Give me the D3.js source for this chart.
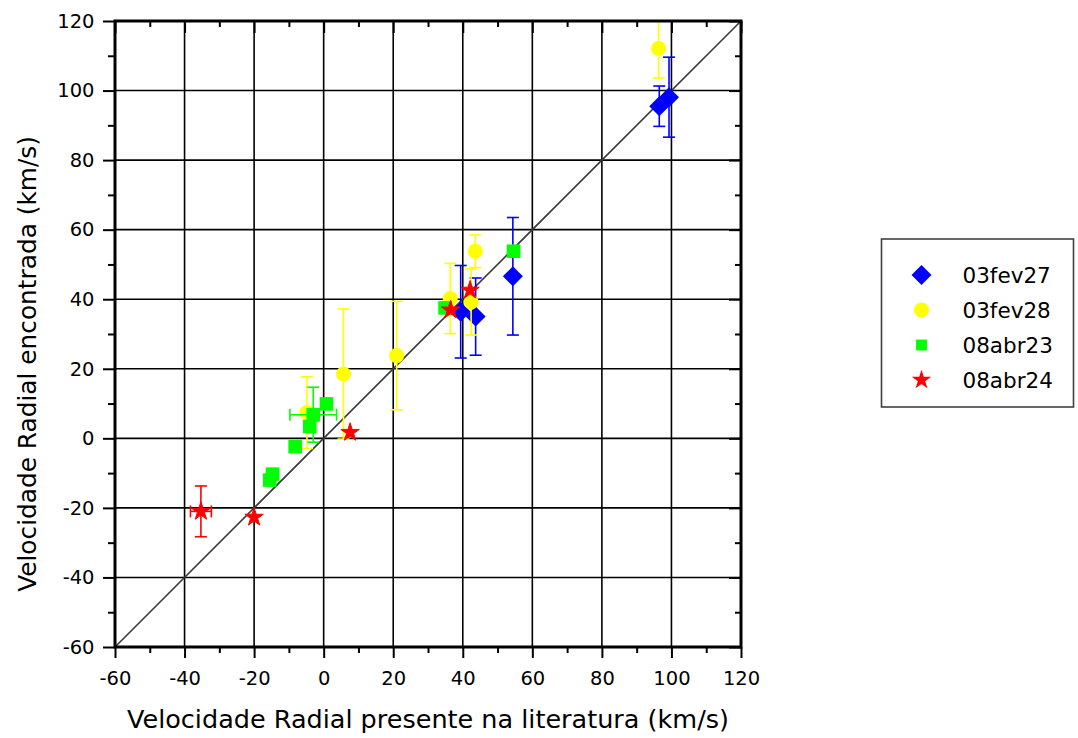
<!DOCTYPE html>
<html>
<head>
<meta charset="utf-8">
<script src="https://cdn.jsdelivr.net/npm/d3@7"></script>
<style>
  html, body { margin: 0; padding: 0; background: #fff; }
  svg { display: block; }
  text { font-family: "DejaVu Sans", sans-serif; fill: #000; }
</style>
</head>
<body>
<svg id="chart" width="1078" height="738"></svg>
<script>
// ---------- data ----------
const seriesNames = ["03fev27", "03fev28", "08abr23", "08abr24"];
const seriesColors = ["#0000ff", "#ffff00", "#00ff00", "#ff0000"];

const fev27X    = [39.4, 43.7, 54.4, 96.5, 99.3];
const fev27Y    = [36.4, 35.0, 46.6, 95.5, 98.1];
const fev27YErr = [13.3, 11.1, 16.9, 5.8, 11.5];
const fev27XErr = [0, 0, 0, 0, 0];

const fev28X    = [96.3, 43.6, 42.4, 36.4, 21.0, 5.7, -4.8];
const fev28Y    = [112.1, 53.8, 39.2, 40.2, 23.8, 18.5, 7.4];
const fev28YErr = [8.5, 4.7, 9.5, 10.1, 15.6, 18.7, 10.3];
const fev28XErr = [0, 0, 0, 0, 0, 0, 0];

const abr23X    = [54.6, 34.9, 0.8, -3.0, -4.0, -8.2, -14.7, -15.5];
const abr23Y    = [53.8, 37.5, 9.9, 6.8, 3.4, -2.4, -10.3, -12.0];
const abr23YErr = [0, 0, 0, 7.9, 0, 0, 0, 0];
const abr23XErr = [0, 0, 0, 6.7, 0, 0, 0, 0];

const abr24X    = [42.1, 36.5, 7.6, -20.0, -35.3];
const abr24Y    = [42.6, 36.9, 1.7, -22.7, -21.0];
const abr24YErr = [0, 0, 0, 0, 7.3];
const abr24XErr = [0, 0, 0, 0, 3.0];

const majorTicks = [-60, -40, -20, 0, 20, 40, 60, 80, 100, 120];
const minorTicks = [-50, -30, -10, 10, 30, 50, 70, 90, 110];

const xTitle = "Velocidade Radial presente na literatura (km/s)";
const yTitle = "Velocidade Radial encontrada (km/s)";

// ---------- layout ----------
const svg = d3.select("#chart");
const L = 115, R = 741, T = 21, B = 647;

const x = d3.scaleLinear().domain([-60, 120]).range([L, R]);
const y = d3.scaleLinear().domain([-60, 120]).range([B, T]);

svg.append("defs").append("clipPath").attr("id", "plotclip")
  .append("rect").attr("x", L).attr("y", T).attr("width", R - L).attr("height", B - T);

// grid
const grid = svg.append("g");
grid.selectAll(".gx").data(majorTicks.slice(1, -1)).join("line")
  .attr("x1", d => x(d)).attr("x2", d => x(d)).attr("y1", T).attr("y2", B)
  .attr("stroke", "#000").attr("stroke-width", 1.6);
grid.selectAll(".gy").data(majorTicks.slice(1, -1)).join("line")
  .attr("y1", d => y(d)).attr("y2", d => y(d)).attr("x1", L).attr("x2", R)
  .attr("stroke", "#000").attr("stroke-width", 1.6);

// diagonal y = x
svg.append("line")
  .attr("x1", x(-60)).attr("y1", y(-60)).attr("x2", x(120)).attr("y2", y(120))
  .attr("stroke", "#3a3a3a").attr("stroke-width", 1.6);

// symbols
function symbolPath(i, scale) {
  const s = scale || 1;
  if (i === 0) return d3.symbol().type(d3.symbolSquare).size(200 * s * s)();
  if (i === 1) return d3.symbol().type(d3.symbolCircle).size(180 * s * s)();
  if (i === 2) return d3.symbol().type(d3.symbolSquare).size(185 * s * s)();
  return d3.symbol().type(d3.symbolStar).size(105 * s * s)();
}
function symbolRot(i) { return i === 0 ? 45 : 0; }

const allSeries = [
  { x: fev27X, y: fev27Y, ye: fev27YErr, xe: fev27XErr },
  { x: fev28X, y: fev28Y, ye: fev28YErr, xe: fev28XErr },
  { x: abr23X, y: abr23Y, ye: abr23YErr, xe: abr23XErr },
  { x: abr24X, y: abr24Y, ye: abr24YErr, xe: abr24XErr }
];

const plot = svg.append("g").attr("clip-path", "url(#plotclip)");
const cap = 6;
allSeries.forEach((s, i) => {
  const g = plot.append("g");
  const col = seriesColors[i];
  const pts = s.x.map((v, k) => ({ x: v, y: s.y[k], ye: s.ye[k], xe: s.xe[k] }));
  pts.filter(p => p.ye > 0).forEach(p => {
    const cx = x(p.x), y1 = y(p.y + p.ye), y2 = y(p.y - p.ye);
    g.append("line").attr("x1", cx).attr("x2", cx).attr("y1", y1).attr("y2", y2)
      .attr("stroke", col).attr("stroke-width", 1.6);
    [y1, y2].forEach(yy => g.append("line").attr("x1", cx - cap).attr("x2", cx + cap)
      .attr("y1", yy).attr("y2", yy).attr("stroke", col).attr("stroke-width", 1.6));
  });
  pts.filter(p => p.xe > 0).forEach(p => {
    const cy = y(p.y), x1 = x(p.x - p.xe), x2 = x(p.x + p.xe);
    g.append("line").attr("x1", x1).attr("x2", x2).attr("y1", cy).attr("y2", cy)
      .attr("stroke", col).attr("stroke-width", 1.6);
    [x1, x2].forEach(xx => g.append("line").attr("x1", xx).attr("x2", xx)
      .attr("y1", cy - cap).attr("y2", cy + cap).attr("stroke", col).attr("stroke-width", 1.6));
  });
  g.selectAll("path.m").data(pts).join("path")
    .attr("d", symbolPath(i))
    .attr("transform", p => `translate(${x(p.x)},${y(p.y)}) rotate(${symbolRot(i)})`)
    .attr("fill", col)
    .attr("stroke", i === 3 ? col : "none").attr("stroke-width", i === 3 ? 1 : 0);
});

// axes
function styleAxis(g) {
  g.select(".domain").remove();
  g.selectAll(".tick line").attr("stroke", "#000").attr("stroke-width", 2);
  g.selectAll(".tick text").style("font-size", "19.5px").attr("fill", "#000");
}
const fmt = d => String(d);

svg.append("g").attr("transform", `translate(0,${B})`)
  .call(d3.axisBottom(x).tickValues(majorTicks).tickSize(11).tickPadding(13.5).tickFormat(fmt))
  .call(styleAxis);
svg.append("g").attr("transform", `translate(0,${B})`)
  .call(d3.axisBottom(x).tickValues(minorTicks).tickSize(6).tickFormat(""))
  .call(styleAxis);
svg.append("g").attr("transform", `translate(${L},0)`)
  .call(d3.axisLeft(y).tickValues(majorTicks).tickSize(12).tickPadding(8.5).tickFormat(fmt))
  .call(styleAxis);
svg.append("g").attr("transform", `translate(${L},0)`)
  .call(d3.axisLeft(y).tickValues(minorTicks).tickSize(7).tickFormat(""))
  .call(styleAxis);
svg.append("g").attr("transform", `translate(0,${T})`)
  .call(d3.axisTop(x).tickValues(majorTicks).tickSize(-12).tickFormat(""))
  .call(styleAxis);
svg.append("g").attr("transform", `translate(0,${T})`)
  .call(d3.axisTop(x).tickValues(minorTicks).tickSize(-6).tickFormat(""))
  .call(styleAxis);
svg.append("g").attr("transform", `translate(${R},0)`)
  .call(d3.axisRight(y).tickValues(majorTicks).tickSize(-12).tickFormat(""))
  .call(styleAxis);
svg.append("g").attr("transform", `translate(${R},0)`)
  .call(d3.axisRight(y).tickValues(minorTicks).tickSize(-6).tickFormat(""))
  .call(styleAxis);

// frame
svg.append("rect").attr("x", L).attr("y", T).attr("width", R - L).attr("height", B - T)
  .attr("fill", "none").attr("stroke", "#000").attr("stroke-width", 3);

// titles
svg.append("text").attr("x", 428).attr("y", 728)
  .attr("text-anchor", "middle").style("font-size", "25.5px").text(xTitle);
svg.append("text").attr("transform", `translate(36,364) rotate(-90)`)
  .attr("text-anchor", "middle").style("font-size", "24.8px").text(yTitle);

// legend
const lg = svg.append("g");
lg.append("rect").attr("x", 881.5).attr("y", 239).attr("width", 192).attr("height", 168)
  .attr("fill", "#fff").attr("stroke", "#404040").attr("stroke-width", 1.6);
seriesNames.forEach((name, i) => {
  const cy = 275 + i * 35;
  const sc = i === 3 ? 1.05 : (i === 2 ? 0.8 : 1);
  lg.append("path").attr("d", symbolPath(i, sc))
    .attr("transform", `translate(921.5,${cy}) rotate(${symbolRot(i)})`)
    .attr("fill", seriesColors[i]);
  lg.append("text").attr("x", 962.5).attr("y", cy).attr("dy", "0.36em")
    .style("font-size", "21.5px").text(name);
});
</script>
</body>
</html>
